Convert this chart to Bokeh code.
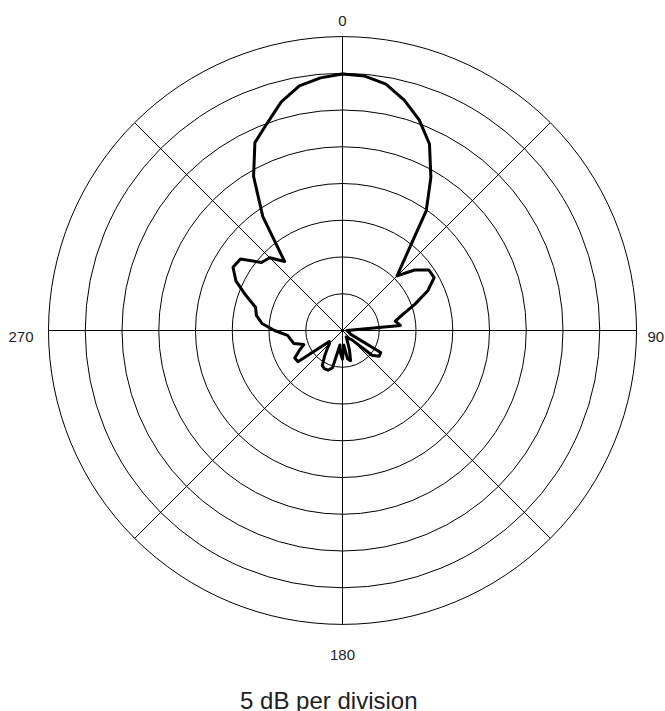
import numpy as np
from bokeh.plotting import figure
from bokeh.models import ColumnDataSource
from bokeh.core.properties import value
from bokeh.embed import file_html
from bokeh.resources import INLINE

# ---- data ----
angles_deg = [0, 5, 10, 15, 20, 25, 30, 35, 40, 45, 50, 55, 60, 65, 70, 75, 80, 85,
              90, 95, 100, 105, 110, 115, 120, 125, 130, 135, 140, 145, 150, 155, 160, 165,
              170, 175, 180, 185, 190, 195, 200, 205, 210, 215, 220, 225, 230, 235, 240, 245,
              250, 255, 260, 265, 270, 275, 280, 285, 290, 295, 300, 305, 310, 315, 320, 325,
              330, 335, 340, 345, 350, 355, 360]
level_db = [-5.1, -5.25, -5.95, -7.55, -9.5, -12.0, -15.95, -20.15, -26.35, -29.5, -27.2, -25.65,
            -25.6, -27.2, -29.5, -31.5, -32.7, -32.1,
            -39.4, -39.25, -39.25, -39.0, -39.0, -38.75, -34.0, -33.9, -34.75, -38.25, -38.5, -38.75,
            -39.0, -38.5, -37.25, -35.75, -36.1, -38.0, -36.1, -36.9, -38.0, -34.75, -34.25, -34.25,
            -34.5, -35.75, -36.8, -37.5, -37.65, -32.6, -32.5, -33.5, -34.4, -33.15, -32.85, -32.5,
            -30.75, -29.0, -28.1, -27.75, -26.0, -24.0, -22.8, -23.05, -25.6, -26.0, -27.75, -21.1,
            -15.8, -11.8, -10.0, -7.8, -6.2, -5.5, -5.1]
ring_db = [-35, -30, -25, -20, -15, -10, -5, 0]
spoke_deg = [0, 45, 90, 135]
angle_labels = ["0", "90", "180", "270"]
floor_db = -40.0
db_per_div = 5.0
title_text = "5 dB per division"

# ---- geometry ----
S = 36.75          # pixels per division
W, H = 665, 711
cx, cy = 342, 330  # centre inside the figure (px)

p = figure(width=W, height=H, output_backend="svg", toolbar_location=None,
           x_range=(-cx / S, (W - cx) / S), y_range=(-(H - cy) / S, cy / S),
           x_axis_type=None, y_axis_type=None, min_border=0)
p.outline_line_color = None
p.grid.visible = False
p.background_fill_color = "white"
p.border_fill_color = "white"

rmax = (0 - floor_db) / db_per_div
radii = [(d - floor_db) / db_per_div for d in ring_db]
p.circle(x=[0] * len(radii), y=[0] * len(radii), radius=radii, radius_units="data",
         fill_color=None, line_color="black", line_width=1)

th = np.radians(spoke_deg)
p.segment(x0=-rmax * np.sin(th), y0=-rmax * np.cos(th), x1=rmax * np.sin(th), y1=rmax * np.cos(th),
          line_color="black", line_width=1)

r = np.clip((np.array(level_db) - floor_db) / db_per_div, 0, None)
a = np.radians(angles_deg)
src = ColumnDataSource(dict(x=r * np.sin(a), y=r * np.cos(a)))
p.line("x", "y", source=src, line_color="black", line_width=3, line_join="round")

font = value("Liberation Sans")
lab_x = [0, (647 - cx) / S, 0, (33 - cx) / S]
lab_y = [(cy - 20) / S, (cy - 336) / S, (cy - 654) / S, (cy - 336) / S]
aligns = ["center", "left", "center", "right"]
for t, x, y, al in zip(angle_labels, lab_x, lab_y, aligns):
    p.text(x=[x], y=[y], text=[t], text_font=font, text_font_size="15px",
           text_align=al, text_baseline="alphabetic", text_color="#222222")

p.text(x=[(328.3 - cx) / S], y=[(cy - 700) / S], text=[title_text], text_font=font,
       text_font_size="24px", text_align="center", text_baseline="alphabetic", text_color="#222222")

open("out.html", "w").write(file_html(p, INLINE))
